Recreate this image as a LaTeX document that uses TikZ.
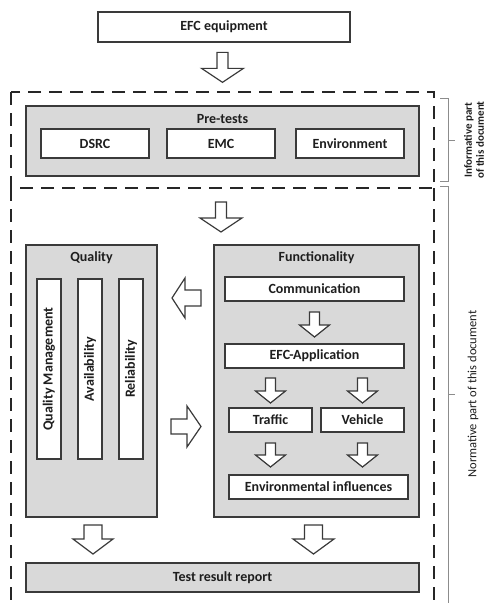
\documentclass[tikz,border=0pt]{standalone}
\usepackage{fontspec}
\setmainfont{Carlito}
\usetikzlibrary{calc}
\definecolor{boxgray}{HTML}{D9D9D9}
\definecolor{edgegray}{HTML}{3A3A3A}
\definecolor{bracegray}{HTML}{8C8C8C}
\definecolor{textgray}{HTML}{1E1E1E}
\tikzset{
  box/.style={draw=edgegray, line width=1.4pt, fill=white, inner sep=0pt, text=textgray,
    font=\bfseries\fontsize{14}{14}\selectfont},
  groupbox/.style={box, fill=boxgray},
  title/.style={inner sep=0pt, text=textgray, font=\bfseries\fontsize{14}{14}\selectfont},
  partframe/.style={draw=black!85, line width=1.5pt, dash pattern=on 13pt off 8pt},
  bigarrow/.style={draw=edgegray, line width=1.2pt, fill=white, line join=miter},
  bracket/.style={draw=bracegray, line width=1pt},
  sidetext/.style={rotate=90, inner sep=0pt, align=center, text=textgray}
}
% #1 centre, #2 angle, #3 length, #4 head width, #5 shaft width, #6 head length
\newcommand{\blockarrow}[6]{%
  \draw[bigarrow, shift={#1}, rotate=#2]
    ({-#5/2},{#3/2}) -- ({#5/2},{#3/2}) -- ({#5/2},{-#3/2+#6}) -- ({#4/2},{-#3/2+#6})
    -- (0,{-#3/2}) -- ({-#4/2},{-#3/2+#6}) -- ({-#5/2},{-#3/2+#6}) -- cycle;}

\begin{document}
\begin{tikzpicture}[x=1pt, y=1pt]
  \useasboundingbox (0,0) rectangle (488,-603);
  \clip (0,0) rectangle (488,-603);

  % frames of the two parts
  \coordinate (infoNW) at (11,-92);
  \coordinate (infoSE) at (434,-188);
  \coordinate (normNW) at (11,-188);
  \draw[partframe] (infoNW) rectangle (infoSE);
  \draw[partframe] (normNW) -- (11,-612);
  \draw[partframe] (infoSE) -- (434,-612);

  % equipment
  \node[box, minimum width=252, minimum height=30] (equip) at (224,-27) {EFC equipment};

  % pre-tests
  \node[groupbox, minimum width=393, minimum height=70] (pretests) at (222.5,-141) {};
  \node[title] (pretitle) at ([yshift=-14pt]pretests.north) {Pre-tests};
  \node[box, minimum width=108, minimum height=29] (dsrc) at (95,-143.5) {DSRC};
  \node[box, minimum width=108, minimum height=29] (emc) at (221,-143.5) {EMC};
  \node[box, minimum width=108, minimum height=29] (environ) at (350,-143.5) {Environment};

  % quality
  \node[groupbox, minimum width=131, minimum height=272] (quality) at (91.5,-381) {};
  \node[title] (qualtitle) at ([yshift=-13pt]quality.north) {Quality};
  \node[box, rotate=90, minimum width=180, minimum height=24] (qualman) at (49,-369) {Quality Management};
  \node[box, rotate=90, minimum width=180, minimum height=24] (avail) at (90,-369) {Availability};
  \node[box, rotate=90, minimum width=180, minimum height=24] (reliab) at (131,-369) {Reliability};

  % functionality
  \node[groupbox, minimum width=205, minimum height=272] (func) at (316.5,-381) {};
  \node[title] (functitle) at ([yshift=-13pt]func.north) {Functionality};
  \node[box, minimum width=179, minimum height=24] (comm) at (314.5,-289) {Communication};
  \node[box, minimum width=179, minimum height=24] (efcapp) at (314.5,-356) {EFC-Application};
  \node[box, minimum width=83, minimum height=24] (traffic) at (270.5,-420) {Traffic};
  \node[box, minimum width=83, minimum height=24] (vehicle) at (362.5,-420) {Vehicle};
  \node[box, minimum width=179, minimum height=24] (envinf) at (318.5,-487) {Environmental influences};

  % report
  \node[groupbox, minimum width=393, minimum height=29] (report) at (222.5,-577.5) {Test result report};

  % block arrows
  \blockarrow{($(equip.south)!0.5!(221,-92)$)}{0}{30}{42}{11}{14}
  \blockarrow{(221,-217)}{0}{30}{42}{11}{14}
  \blockarrow{($(comm.south)!0.5!(efcapp.north)+(0,-2)$)}{0}{25}{30}{10}{12}
  \blockarrow{($(efcapp.south-|traffic)!0.5!(traffic.north)+(0,-2.5)$)}{0}{25}{30}{10}{12}
  \blockarrow{($(efcapp.south-|vehicle)!0.5!(vehicle.north)+(0,-2.5)$)}{0}{25}{30}{10}{12}
  \blockarrow{($(traffic.south)!0.5!(envinf.north-|traffic)+(0,-1.5)$)}{0}{24}{30}{10}{12}
  \blockarrow{($(vehicle.south)!0.5!(envinf.north-|vehicle)+(0,-1.5)$)}{0}{24}{30}{10}{12}
  \blockarrow{(186.5,-298)}{-90}{29}{40}{16}{13}
  \blockarrow{(186,-426.5)}{90}{30}{41}{15}{14}
  \blockarrow{(93,-539.5)}{0}{29}{40}{18}{15}
  \blockarrow{(313.5,-539.5)}{0}{29}{41}{18}{15}

  % brackets
  \draw[bracket] (440,-98) -- (448,-98) -- (448,-181) -- (440,-181);
  \draw[bracket] (448,-140) -- (455,-140);
  \draw[bracket] (440,-186) -- (448,-186) -- (448,-610);
  \draw[bracket] (448,-394) -- (455,-394);
  \node[sidetext, font=\bfseries\fontsize{11}{12}\selectfont] (infotext) at (474,-140) {Informative part\\of this document};
  \node[sidetext, font=\fontsize{12.5}{13}\selectfont] (normtext) at (473,-394) {Normative part of this document};
\end{tikzpicture}
\end{document}
